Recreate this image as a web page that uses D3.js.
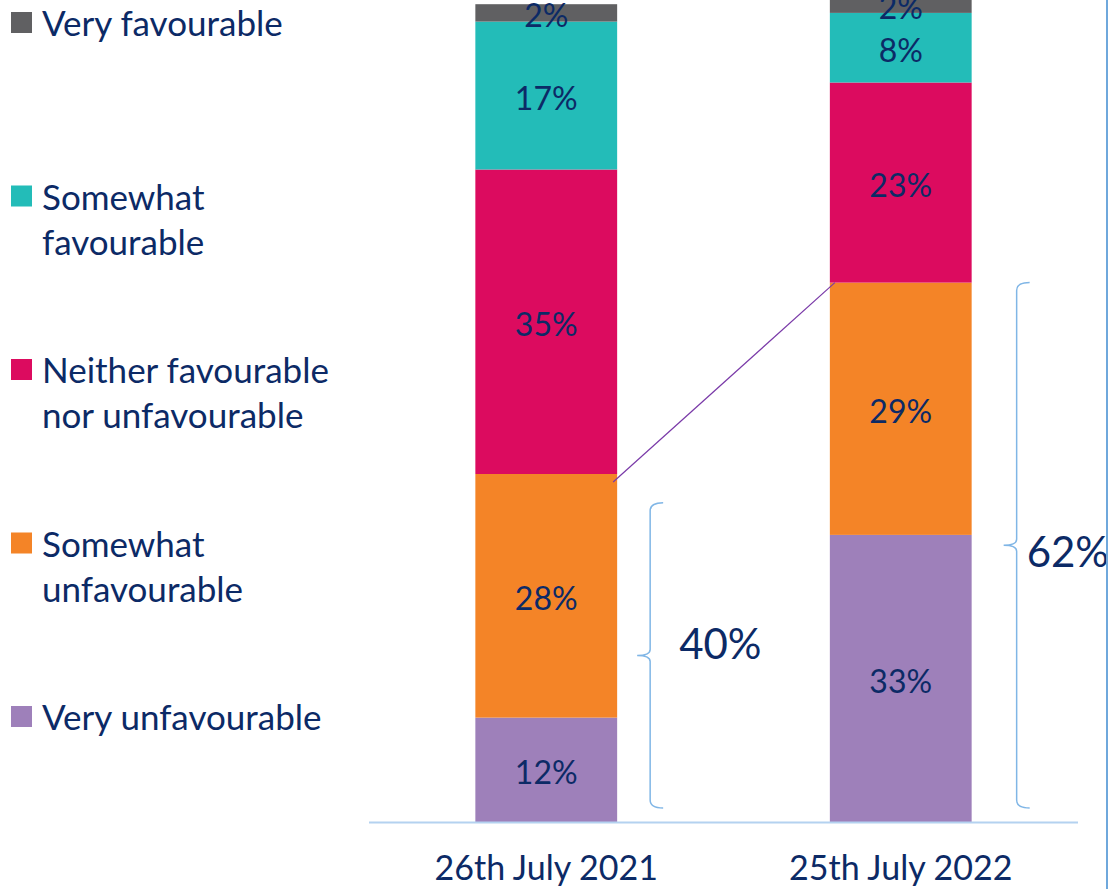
<!DOCTYPE html>
<html>
<head>
<meta charset="utf-8">
<script src="https://cdn.jsdelivr.net/npm/d3@7"></script>
<style>
  body { margin: 0; background: #fff; }
  svg { display: block; font-family: Lato, "Open Sans", sans-serif; }
</style>
</head>
<body>
<div id="chart"></div>
<script>
// data
const categories = ["26th July 2021", "25th July 2022"];
const seriesKeys = ["veryUnfav", "somewhatUnfav", "neither", "somewhatFav", "veryFav"];
const veryUnfav = [12, 33];
const somewhatUnfav = [28, 29];
const neither = [35, 23];
const somewhatFav = [17, 8];
const veryFav = [2, 2];
const legendLabels = [
    ["Very favourable"],
    ["Somewhat", "favourable"],
    ["Neither favourable", "nor unfavourable"],
    ["Somewhat", "unfavourable"],
    ["Very unfavourable"]
];
const legendKeys = ["veryFav", "somewhatFav", "neither", "somewhatUnfav", "veryUnfav"];
// bracket annotations: category, from, to, label
const brackets = [
    { cat: "26th July 2021", from: 1.6, to: 36.7, label: "40%" },
    { cat: "25th July 2022", from: 1.6, to: 62, label: "62%" }
];

const colors = {
    veryFav: "#606062",
    somewhatFav: "#23bcb8",
    neither: "#dc0b5f",
    somewhatUnfav: "#f48427",
    veryUnfav: "#9e80ba"
};
const navy = "#0c2a66";

const width = 1112, height = 889;
const baseY = 822;

const table = categories.map((c, i) => ({
    cat: c,
    veryUnfav: veryUnfav[i],
    somewhatUnfav: somewhatUnfav[i],
    neither: neither[i],
    somewhatFav: somewhatFav[i],
    veryFav: veryFav[i]
}));

const svg = d3.select("#chart").append("svg")
    .attr("width", width)
    .attr("height", height);

const x = d3.scaleBand()
    .domain(categories)
    .range([369, 1078])
    .paddingInner(0.6)
    .paddingOuter(0.3);

const y = d3.scaleLinear()
    .domain([0, 100])
    .range([baseY, baseY - 870]);

const stacked = d3.stack().keys(seriesKeys)(table);

const layer = svg.selectAll(".layer")
    .data(stacked)
    .enter().append("g")
    .attr("class", "layer")
    .attr("fill", d => colors[d.key]);

layer.selectAll("rect")
    .data(d => d)
    .enter().append("rect")
    .attr("x", d => x(d.data.cat))
    .attr("y", d => y(d[1]))
    .attr("width", x.bandwidth())
    .attr("height", d => y(d[0]) - y(d[1]));

layer.selectAll("text")
    .data(d => d.map(v => ({ v: v, key: d.key })))
    .enter().append("text")
    .attr("x", d => x(d.v.data.cat) + x.bandwidth() / 2)
    .attr("y", d => (y(d.v[0]) + y(d.v[1])) / 2 + 2)
    .attr("text-anchor", "middle")
    .attr("dominant-baseline", "central")
    .attr("fill", navy)
    .style("font-size", "32px")
    .text(d => (d.v[1] - d.v[0]) + "%");

// connector line between the unfavourable totals
svg.append("line")
    .attr("x1", x(categories[0]) + x.bandwidth() - 4)
    .attr("y1", y(veryUnfav[0] + somewhatUnfav[0]) + 8)
    .attr("x2", x(categories[1]) + 5)
    .attr("y2", y(veryUnfav[1] + somewhatUnfav[1]))
    .attr("stroke", "#7a3aa8")
    .attr("stroke-width", 1.2);

// x axis
const xAxis = svg.append("g")
    .attr("transform", `translate(0,${baseY})`)
    .call(d3.axisBottom(x).tickSize(0).tickPadding(34));
xAxis.select(".domain")
    .attr("d", "M369,0.5H1078")
    .attr("stroke", "#b4d2f0")
    .attr("stroke-width", 2);
xAxis.selectAll("text")
    .attr("fill", navy)
    .style("font-family", "Lato, 'Open Sans', sans-serif")
    .style("font-size", "34px");

// brackets
const bracketOffset = [33, 45];
brackets.forEach((b, i) => {
    const bx = x(b.cat) + x.bandwidth() + bracketOffset[i];
    const y0 = y(b.to), y1 = y(b.from), mid = (y0 + y1) / 2;
    const path = d3.path();
    path.moveTo(bx + 13, y0);
    path.quadraticCurveTo(bx, y0, bx, y0 + 8);
    path.lineTo(bx, mid - 6);
    path.quadraticCurveTo(bx, mid, bx - 13, mid);
    path.quadraticCurveTo(bx, mid, bx, mid + 6);
    path.lineTo(bx, y1 - 8);
    path.quadraticCurveTo(bx, y1, bx + 13, y1);
    svg.append("path")
        .attr("d", path.toString())
        .attr("fill", "none")
        .attr("stroke", "#80b6e6")
        .attr("stroke-width", 1.5);
    svg.append("text")
        .attr("x", bx + (i === 0 ? 29 : 10))
        .attr("y", mid + (i === 0 ? -12 : 6))
        .attr("dominant-baseline", "central")
        .attr("fill", navy)
        .style("font-size", "42px")
        .text(b.label);
});

// right border line
svg.append("line")
    .attr("x1", 1107).attr("x2", 1107)
    .attr("y1", 0).attr("y2", height)
    .attr("stroke", "#6fa8dc")
    .attr("stroke-width", 2);

// legend
const legend = svg.selectAll(".legend")
    .data(legendLabels)
    .enter().append("g")
    .attr("class", "legend")
    .attr("transform", (d, i) => `translate(11,${22 + i * 173.5})`);

legend.append("rect")
    .attr("x", 0)
    .attr("y", -10)
    .attr("width", 21)
    .attr("height", 21)
    .attr("fill", (d, i) => colors[legendKeys[i]]);

legend.selectAll("text")
    .data(d => d)
    .enter().append("text")
    .attr("x", 31)
    .attr("y", (d, j) => j * 45)
    .attr("dominant-baseline", "central")
    .attr("fill", navy)
    .style("font-size", "35px")
    .text(d => d);
</script>
</body>
</html>
